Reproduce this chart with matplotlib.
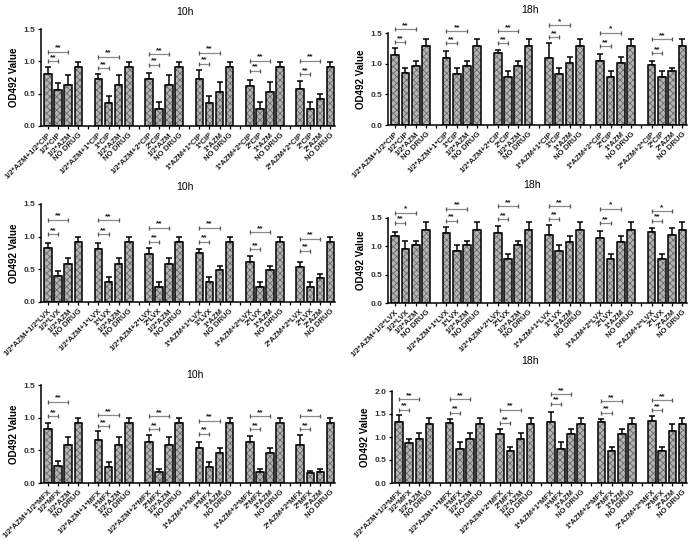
import matplotlib
matplotlib.use("Agg")
import matplotlib.pyplot as plt
import numpy as np

plt.rcParams['font.family'] = ['Liberation Sans', 'DejaVu Sans']
plt.rcParams['hatch.linewidth'] = 0.6

def group_labels(drug):
    return [f"1/2*AZM+1/2*{drug}", f"1/2*{drug}", "1/2*AZM", "NO DRUG",
            f"1/2*AZM+1*{drug}", f"1*{drug}", "1/2*AZM", "NO DRUG",
            f"1/2*AZM+2*{drug}", f"2*{drug}", "1/2*AZM", "NO DRUG",
            f"1*AZM+1*{drug}", f"1*{drug}", "1*AZM", "NO DRUG",
            f"1*AZM+2*{drug}", f"2*{drug}", "1*AZM", "NO DRUG",
            f"2*AZM+2*{drug}", f"2*{drug}", "2*AZM", "NO DRUG"]

labels_cip = group_labels("CIP")
labels_lvx = group_labels("LVX")
labels_mfx = group_labels("MFX")

cip10_val = [0.80, 0.555, 0.64, 0.92, 0.72, 0.36, 0.64, 0.92, 0.72, 0.27, 0.64, 0.92,
             0.72, 0.36, 0.53, 0.92, 0.62, 0.27, 0.53, 0.92, 0.565, 0.27, 0.415, 0.92]
cip10_sd = [0.11, 0.115, 0.15, 0.065, 0.08, 0.11, 0.15, 0.065, 0.105, 0.10, 0.15, 0.065,
            0.15, 0.11, 0.155, 0.065, 0.09, 0.10, 0.155, 0.065, 0.13, 0.10, 0.085, 0.065]
cip10_brk_lo = [1.00, 0.89, 0.945, 0.96, 0.855, 0.80]
cip10_brk_hi = [1.15, 1.07, 1.11, 1.13, 1.01, 1.01]
cip10_star_lo = ["**"] * 6
cip10_star_hi = ["**"] * 6

cip18_val = [1.14, 0.84, 0.96, 1.285, 1.10, 0.83, 0.96, 1.285, 1.17, 0.78, 0.96, 1.285,
             1.09, 0.83, 1.01, 1.285, 1.045, 0.78, 1.01, 1.285, 0.98, 0.78, 0.885, 1.285]
cip18_sd = [0.11, 0.095, 0.08, 0.12, 0.11, 0.095, 0.08, 0.12, 0.055, 0.10, 0.08, 0.12,
            0.245, 0.095, 0.095, 0.12, 0.115, 0.10, 0.095, 0.12, 0.06, 0.10, 0.045, 0.12]
cip18_brk_lo = [1.35, 1.335, 1.33, 1.43, 1.28, 1.17]
cip18_brk_hi = [1.565, 1.53, 1.53, 1.625, 1.50, 1.40]
cip18_star_lo = ["**"] * 6
cip18_star_hi = ["**", "**", "**", "*", "*", "**"]

lvx10_val = [0.82, 0.40, 0.58, 0.915, 0.805, 0.31, 0.58, 0.915, 0.73, 0.23, 0.58, 0.915,
             0.745, 0.31, 0.49, 0.915, 0.61, 0.23, 0.49, 0.915, 0.53, 0.23, 0.37, 0.915]
lvx10_sd = [0.08, 0.07, 0.10, 0.075, 0.105, 0.075, 0.10, 0.075, 0.10, 0.08, 0.10, 0.075,
            0.06, 0.075, 0.06, 0.075, 0.09, 0.08, 0.06, 0.075, 0.085, 0.08, 0.065, 0.075]
lvx10_brk_lo = [1.04, 1.04, 0.925, 0.925, 0.81, 0.785]
lvx10_brk_hi = [1.26, 1.25, 1.14, 1.14, 1.07, 0.965]
lvx10_star_lo = ["**"] * 6
lvx10_star_hi = ["**"] * 6

lvx18_val = [1.175, 0.95, 1.02, 1.28, 1.235, 0.925, 1.02, 1.28, 1.235, 0.78, 1.02, 1.28,
             1.195, 0.925, 1.075, 1.28, 1.145, 0.78, 1.075, 1.28, 1.26, 0.78, 1.205, 1.28]
lvx18_sd = [0.075, 0.15, 0.08, 0.15, 0.10, 0.095, 0.08, 0.15, 0.13, 0.09, 0.08, 0.15,
            0.185, 0.095, 0.115, 0.15, 0.125, 0.09, 0.115, 0.15, 0.07, 0.09, 0.115, 0.15]
lvx18_brk_lo = [1.42, 1.45, 1.48, 1.49, 1.41, 1.45]
lvx18_brk_hi = [1.59, 1.66, 1.71, 1.71, 1.66, 1.62]
lvx18_star_lo = ["**"] * 6
lvx18_star_hi = ["*", "**", "**", "**", "*", "*"]

mfx10_val = [0.83, 0.265, 0.585, 0.925, 0.66, 0.245, 0.585, 0.925, 0.62, 0.17, 0.585, 0.925,
             0.535, 0.245, 0.455, 0.925, 0.62, 0.17, 0.455, 0.925, 0.585, 0.15, 0.17, 0.925]
mfx10_sd = [0.085, 0.065, 0.125, 0.065, 0.14, 0.075, 0.125, 0.065, 0.115, 0.04, 0.125, 0.065,
            0.10, 0.075, 0.08, 0.065, 0.10, 0.04, 0.08, 0.065, 0.15, 0.04, 0.04, 0.065]
mfx10_brk_lo = [1.02, 0.865, 0.825, 0.75, 0.825, 0.825]
mfx10_brk_hi = [1.24, 1.04, 1.025, 0.95, 1.02, 1.03]
mfx10_star_lo = ["**"] * 6
mfx10_star_hi = ["**"] * 6

mfx18_val = [1.325, 0.87, 0.965, 1.29, 1.31, 0.745, 0.965, 1.29, 1.07, 0.695, 0.965, 1.29,
             1.325, 0.745, 1.06, 1.29, 1.325, 0.695, 1.06, 1.29, 1.34, 0.695, 1.13, 1.29]
mfx18_sd = [0.145, 0.095, 0.12, 0.13, 0.075, 0.145, 0.12, 0.13, 0.095, 0.085, 0.12, 0.13,
            0.22, 0.145, 0.12, 0.13, 0.075, 0.085, 0.12, 0.13, 0.11, 0.085, 0.145, 0.13]
mfx18_brk_lo = [1.595, 1.53, 1.30, 1.725, 1.53, 1.58]
mfx18_brk_hi = [1.82, 1.82, 1.595, 1.93, 1.78, 1.80]
mfx18_star_lo = ["**"] * 6
mfx18_star_hi = ["**"] * 6

yticks_15 = [0.0, 0.5, 1.0, 1.5]
yticks_20 = [0.0, 0.5, 1.0, 1.5, 2.0]

fig = plt.figure(figsize=(7.0, 5.42), dpi=100)

panels = [
    # rect, title, title_xy(px), labels, val, sd, brk_lo, brk_hi, star_lo, star_hi, yticks
    ([41/700, 1-126/542, 294/700, 97/542], "10h", (185, 12), labels_cip, cip10_val, cip10_sd,
     cip10_brk_lo, cip10_brk_hi, cip10_star_lo, cip10_star_hi, yticks_15),
    ([388/700, 1-125/542, 299/700, 92/542], "18h", (530, 10), labels_cip, cip18_val, cip18_sd,
     cip18_brk_lo, cip18_brk_hi, cip18_star_lo, cip18_star_hi, yticks_15),
    ([41/700, 1-302/542, 294/700, 98/542], "10h", (185, 187), labels_lvx, lvx10_val, lvx10_sd,
     lvx10_brk_lo, lvx10_brk_hi, lvx10_star_lo, lvx10_star_hi, yticks_15),
    ([388/700, 1-303/542, 299/700, 85/542], "18h", (532, 185), labels_lvx, lvx18_val, lvx18_sd,
     lvx18_brk_lo, lvx18_brk_hi, lvx18_star_lo, lvx18_star_hi, yticks_15),
    ([41/700, 1-483/542, 294/700, 98/542], "10h", (195, 375), labels_mfx, mfx10_val, mfx10_sd,
     mfx10_brk_lo, mfx10_brk_hi, mfx10_star_lo, mfx10_star_hi, yticks_15),
    ([392/700, 1-483/542, 295/700, 92/542], "18h", (530, 361), labels_mfx, mfx18_val, mfx18_sd,
     mfx18_brk_lo, mfx18_brk_hi, mfx18_star_lo, mfx18_star_hi, yticks_20),
]

n_groups = 6
group_pitch = 5
x = np.array([g * group_pitch + b for g in range(n_groups) for b in range(4)], dtype=float)
bar_w = 0.75

for rect, title, txy, labels, val, sd, blo, bhi, slo, shi, yt in panels:
    ax = fig.add_axes(rect)
    val = np.array(val)
    sd = np.array(sd)
    # error bars (upper only)
    ax.errorbar(x, val, yerr=[np.zeros_like(sd), sd], fmt='none', ecolor='black',
                elinewidth=1.1, capsize=2.2, capthick=1.1, zorder=1)
    # hatched fill
    ax.bar(x, val, width=bar_w, color='#b4b4b4', edgecolor='#6a6a6a', hatch='xxxxx',
           linewidth=0, zorder=2)
    # black outline
    ax.bar(x, val, width=bar_w, fill=False, edgecolor='black', linewidth=1.1, zorder=3)

    # significance brackets
    for g in range(n_groups):
        x0 = x[g * 4]
        for (xe, yb, st) in [(x[g * 4 + 1], blo[g], slo[g]), (x[g * 4 + 2], bhi[g], shi[g])]:
            ax.plot([x0, xe], [yb, yb], color='#8a8a8a', lw=0.9, clip_on=False, zorder=4,
                    marker='|', markersize=3.5, markeredgewidth=0.9, markeredgecolor='#555555')
            ax.annotate(st, xy=((x0 + xe) / 2, yb), xytext=(0, 0.2), textcoords='offset points',
                        ha='center', va='bottom', fontsize=6, fontweight='bold',
                        color='#222222', annotation_clip=False)

    ax.set_xlim(-0.7, x[-1] + 0.45)
    ax.set_ylim(0, yt[-1])
    ax.set_yticks(yt)
    ax.set_yticklabels([f"{v:.1f}" for v in yt], fontsize=6, fontweight='bold', color='#333333')
    ax.set_xticks(x)
    ax.set_xticklabels(labels, rotation=45, ha='right', rotation_mode='anchor',
                       fontsize=5.6, fontweight='bold', color='#222222')
    minor = [g * group_pitch + 3.5 + (group_pitch - 3.5) / 2 - 0.25 for g in range(n_groups - 1)]
    ax.set_xticks(minor, minor=True)
    ax.tick_params(axis='x', which='both', length=2.5, width=0.9, pad=1.5)
    ax.tick_params(axis='y', length=2.5, width=0.9, pad=1.5)
    for s in ['top', 'right']:
        ax.spines[s].set_visible(False)
    for s in ['left', 'bottom']:
        ax.spines[s].set_linewidth(1.1)
    ax.set_ylabel("OD492 Value", fontsize=7, fontweight='bold', labelpad=3)
    fig.text(txy[0] / 700, 1 - txy[1] / 542, title, ha='center', va='center', fontsize=7.5)

fig.savefig("out.png", dpi=100)
